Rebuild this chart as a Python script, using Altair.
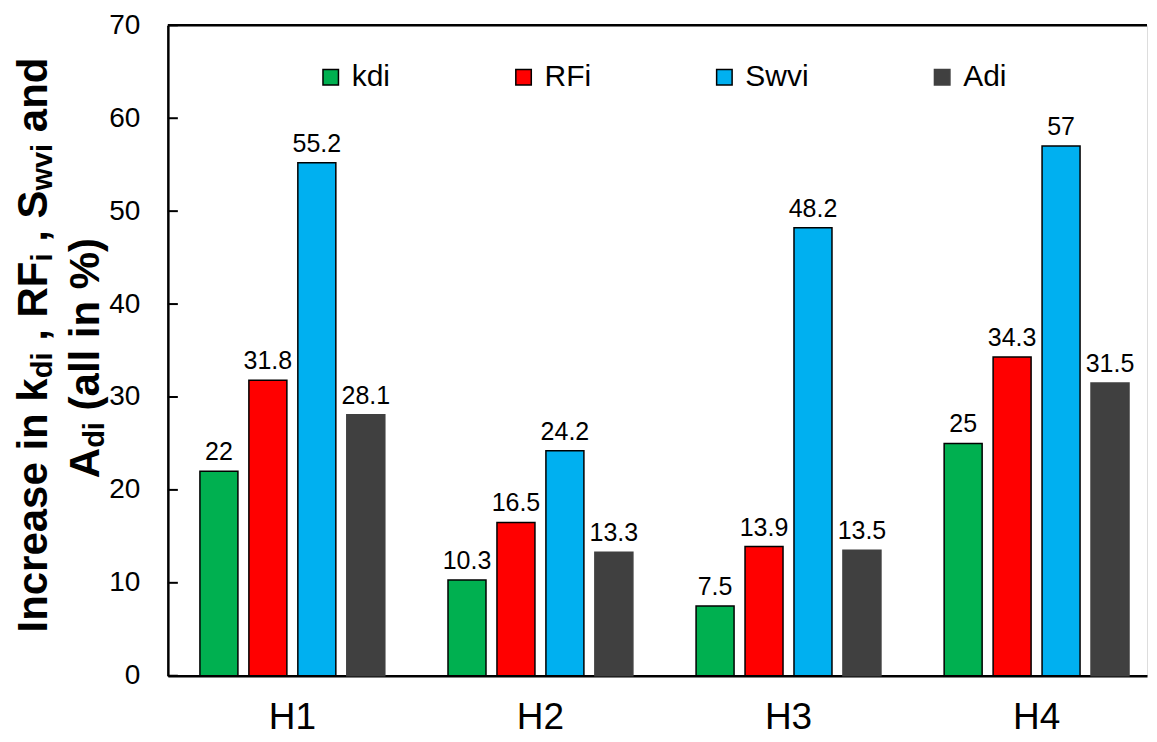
import altair as alt
import pandas as pd

# ---------------- data ----------------
groups = ["H1", "H2", "H3", "H4"]
series = ["kdi", "RFi", "Swvi", "Adi"]
kdi = [22, 10.3, 7.5, 25]
rfi = [31.8, 16.5, 13.9, 34.3]
swvi = [55.2, 24.2, 48.2, 57]
adi = [28.1, 13.3, 13.5, 31.5]
colors = ["#00B050", "#FF0000", "#00B0F0", "#404040"]
strokes = ["black", "black", "black", "#404040"]
y_ticks = [0, 10, 20, 30, 40, 50, 60, 70]

# y-axis title pieces: (text, is_subscript)
title_line1 = [("Increase in k", False), ("di", True), (" , RF", False), ("i", True),
               (" , S", False), ("wvi", True), (" and", False)]
title_line2 = [("A", False), ("di", True), (" (all in %)", False)]

rows = []
for s, vals in zip(series, [kdi, rfi, swvi, adi]):
    for g, v in zip(groups, vals):
        rows.append({"group": g, "series": s, "value": v, "label": f"{v:g}"})
df = pd.DataFrame(rows)

# ---------------- layout ----------------
W, H = 980, 651
FONT = "Liberation Sans"
MAIN_FS, SUB_FS = 42, 29

# Arial/Liberation Sans Bold advance widths (per 1000 em)
BOLD_W = {' ': 278, ',': 278, '(': 333, ')': 333, '%': 889, 'A': 722, 'I': 278,
          'R': 722, 'F': 611, 'S': 667, 'a': 556, 'c': 556, 'd': 611, 'e': 556,
          'i': 278, 'k': 556, 'l': 278, 'n': 611, 'r': 389, 's': 556, 'v': 556,
          'w': 778}


def text_w(s, size):
    return sum(BOLD_W.get(c, 556) for c in s) / 1000.0 * size


x_enc = alt.X(
    "group:N", sort=groups,
    scale=alt.Scale(paddingInner=0.2106, paddingOuter=0.0788, align=0.68),
    axis=alt.Axis(title=None, labelAngle=0, labelFontSize=37, labelFont=FONT,
                  labelColor="black", labelPadding=24, ticks=False,
                  domainColor="black", domainWidth=2.5),
)
xoff_enc = alt.XOffset("series:N", sort=series,
                       scale=alt.Scale(paddingInner=0.224, paddingOuter=0.112))
y_scale = alt.Scale(domain=[0, 70], nice=False)

legend_spec = alt.Legend(
    title=None, orient="none", legendX=148, legendY=37, direction="horizontal",
    symbolType="square", symbolSize=240, symbolStrokeWidth=1.5,
    labelFontSize=30, labelFont=FONT, labelColor="black", columnPadding=118,
    labelOffset=6, padding=0,
)

bars = alt.Chart(df).mark_bar(strokeWidth=1.5).encode(
    x=x_enc,
    xOffset=xoff_enc,
    y=alt.Y("value:Q", scale=y_scale,
            axis=alt.Axis(title=None, values=y_ticks, labelFontSize=28, labelFont=FONT,
                          labelColor="black", ticks=False, labelPadding=28,
                          domainColor="black", domainWidth=2.5, grid=False)),
    color=alt.Color("series:N", scale=alt.Scale(domain=series, range=colors),
                    legend=legend_spec),
    stroke=alt.Stroke("series:N", scale=alt.Scale(domain=series, range=strokes),
                      legend=legend_spec),
)

labels = alt.Chart(df).mark_text(
    baseline="alphabetic", dy=-11, fontSize=25, font=FONT, color="black"
).encode(
    x=alt.X("group:N", sort=groups),
    xOffset=alt.XOffset("series:N", sort=series),
    y=alt.Y("value:Q", scale=y_scale),
    text="label:N",
)

top_rule = alt.Chart(pd.DataFrame({"v": [70]})).mark_rule(
    color="black", strokeWidth=2.5
).encode(y=alt.Y("v:Q", scale=y_scale), x=alt.value(0), x2=alt.value(W))

in_ticks = alt.Chart(pd.DataFrame({"v": y_ticks})).mark_rule(
    color="black", strokeWidth=2
).encode(y=alt.Y("v:Q", scale=y_scale), x=alt.value(0), x2=alt.value(10))

# y-axis title built from text pieces (for subscripts)
title_layers = []


def add_line(parts, base_x, center_y):
    total = sum(text_w(t, SUB_FS if sub else MAIN_FS) for t, sub in parts)
    cur = center_y + total / 2.0
    for t, sub in parts:
        fs = SUB_FS if sub else MAIN_FS
        shown = t.lstrip(" ")
        lead = text_w(t[: len(t) - len(shown)], fs)
        layer = alt.Chart(pd.DataFrame({"t": [shown]})).mark_text(
            angle=270, align="left", baseline="alphabetic", font=FONT,
            fontSize=fs, fontWeight="bold", color="black",
        ).encode(
            text="t:N",
            x=alt.value(base_x + (5 if sub else 0)),
            y=alt.value(cur - lead),
        )
        title_layers.append(layer)
        cur -= text_w(t, fs)


add_line(title_line1, -121, 320)
add_line(title_line2, -69, 333)

chart = alt.layer(bars, labels, top_rule, in_ticks, *title_layers).properties(
    width=W, height=H,
    padding={"left": 4, "top": 3, "right": 0, "bottom": 0},
).configure_view(strokeWidth=0).configure(background="white")

chart.save("out.html", embed_options={"renderer": "svg", "actions": False})
